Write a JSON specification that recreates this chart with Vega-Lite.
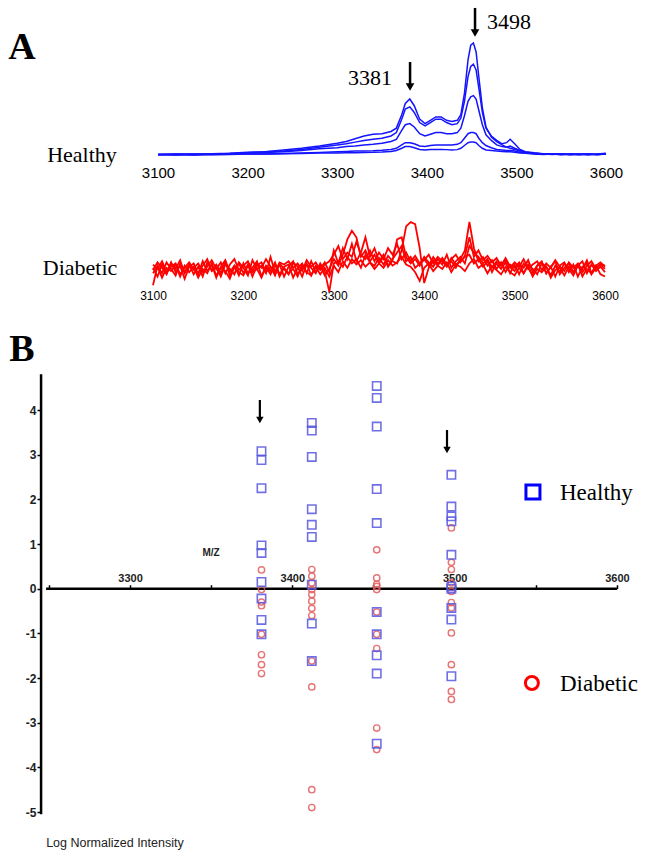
{
"$schema": "https://vega.github.io/schema/vega-lite/v6.json",
"padding": 0,
"spacing": 0,
"bounds": "flush",
"config": {"view": {"stroke": null}, "axis": {"grid": false}},
"datasets": {
"healthy": [
{"s":1,"mz":3100,"i":0.5},{"s":1,"mz":3120,"i":1},{"s":1,"mz":3140,"i":0.3},{"s":1,"mz":3160,"i":1.2},{"s":1,"mz":3180,"i":1.5},{"s":1,"mz":3200,"i":2.5},{"s":1,"mz":3220,"i":3},{"s":1,"mz":3240,"i":4.5},{"s":1,"mz":3260,"i":6},{"s":1,"mz":3280,"i":8},{"s":1,"mz":3300,"i":10.5},{"s":1,"mz":3310,"i":12},{"s":1,"mz":3320,"i":14.5},{"s":1,"mz":3330,"i":17},{"s":1,"mz":3340,"i":18.5},{"s":1,"mz":3350,"i":19},{"s":1,"mz":3360,"i":21},{"s":1,"mz":3366,"i":24},{"s":1,"mz":3372,"i":36},{"s":1,"mz":3376,"i":46},{"s":1,"mz":3381,"i":50},{"s":1,"mz":3386,"i":44},{"s":1,"mz":3392,"i":32},{"s":1,"mz":3398,"i":28},{"s":1,"mz":3404,"i":31},{"s":1,"mz":3410,"i":34},{"s":1,"mz":3416,"i":34},{"s":1,"mz":3422,"i":31},{"s":1,"mz":3428,"i":30},{"s":1,"mz":3434,"i":31},{"s":1,"mz":3438,"i":36},{"s":1,"mz":3442,"i":55},{"s":1,"mz":3446,"i":85},{"s":1,"mz":3449,"i":98},{"s":1,"mz":3452,"i":100},{"s":1,"mz":3455,"i":92},{"s":1,"mz":3458,"i":70},{"s":1,"mz":3462,"i":42},{"s":1,"mz":3466,"i":25},{"s":1,"mz":3472,"i":16},{"s":1,"mz":3478,"i":12},{"s":1,"mz":3484,"i":9},{"s":1,"mz":3489,"i":7},{"s":1,"mz":3493,"i":6},{"s":1,"mz":3498,"i":5},{"s":1,"mz":3504,"i":3.5},{"s":1,"mz":3510,"i":2.5},{"s":1,"mz":3520,"i":1.5},{"s":1,"mz":3530,"i":1},{"s":1,"mz":3540,"i":1.2},{"s":1,"mz":3550,"i":0.6},{"s":1,"mz":3560,"i":1},{"s":1,"mz":3570,"i":0.5},{"s":1,"mz":3580,"i":0.8},{"s":1,"mz":3590,"i":0.4},{"s":1,"mz":3600,"i":1},
{"s":2,"mz":3100,"i":0.3},{"s":2,"mz":3120,"i":0.8},{"s":2,"mz":3140,"i":1},{"s":2,"mz":3160,"i":0.6},{"s":2,"mz":3180,"i":1.4},{"s":2,"mz":3200,"i":2},{"s":2,"mz":3220,"i":2.8},{"s":2,"mz":3240,"i":3.5},{"s":2,"mz":3260,"i":5},{"s":2,"mz":3280,"i":7},{"s":2,"mz":3300,"i":9},{"s":2,"mz":3310,"i":10},{"s":2,"mz":3320,"i":11.5},{"s":2,"mz":3330,"i":13},{"s":2,"mz":3340,"i":14},{"s":2,"mz":3350,"i":15},{"s":2,"mz":3360,"i":17},{"s":2,"mz":3366,"i":20},{"s":2,"mz":3372,"i":32},{"s":2,"mz":3376,"i":41},{"s":2,"mz":3381,"i":43},{"s":2,"mz":3386,"i":38},{"s":2,"mz":3392,"i":29},{"s":2,"mz":3398,"i":26},{"s":2,"mz":3404,"i":29},{"s":2,"mz":3410,"i":32},{"s":2,"mz":3416,"i":32},{"s":2,"mz":3422,"i":29},{"s":2,"mz":3428,"i":27},{"s":2,"mz":3434,"i":28},{"s":2,"mz":3438,"i":33},{"s":2,"mz":3442,"i":48},{"s":2,"mz":3446,"i":70},{"s":2,"mz":3449,"i":79},{"s":2,"mz":3452,"i":81},{"s":2,"mz":3455,"i":76},{"s":2,"mz":3458,"i":60},{"s":2,"mz":3462,"i":38},{"s":2,"mz":3466,"i":24},{"s":2,"mz":3472,"i":17},{"s":2,"mz":3478,"i":13},{"s":2,"mz":3484,"i":10},{"s":2,"mz":3489,"i":11},{"s":2,"mz":3493,"i":14},{"s":2,"mz":3498,"i":10},{"s":2,"mz":3504,"i":5},{"s":2,"mz":3510,"i":3},{"s":2,"mz":3520,"i":2},{"s":2,"mz":3530,"i":1.2},{"s":2,"mz":3540,"i":0.8},{"s":2,"mz":3550,"i":1.1},{"s":2,"mz":3560,"i":0.5},{"s":2,"mz":3570,"i":0.9},{"s":2,"mz":3580,"i":0.3},{"s":2,"mz":3590,"i":0.8},{"s":2,"mz":3600,"i":1.5},
{"s":3,"mz":3100,"i":0.6},{"s":3,"mz":3120,"i":0.2},{"s":3,"mz":3140,"i":0.9},{"s":3,"mz":3160,"i":1},{"s":3,"mz":3180,"i":0.7},{"s":3,"mz":3200,"i":1.8},{"s":3,"mz":3220,"i":2.2},{"s":3,"mz":3240,"i":3},{"s":3,"mz":3260,"i":4},{"s":3,"mz":3280,"i":5.5},{"s":3,"mz":3300,"i":6.5},{"s":3,"mz":3310,"i":7.5},{"s":3,"mz":3320,"i":8},{"s":3,"mz":3330,"i":9},{"s":3,"mz":3340,"i":9.5},{"s":3,"mz":3350,"i":10.5},{"s":3,"mz":3360,"i":12},{"s":3,"mz":3366,"i":14},{"s":3,"mz":3372,"i":22},{"s":3,"mz":3376,"i":27},{"s":3,"mz":3381,"i":28},{"s":3,"mz":3386,"i":25},{"s":3,"mz":3392,"i":19},{"s":3,"mz":3398,"i":17},{"s":3,"mz":3404,"i":18.5},{"s":3,"mz":3410,"i":20},{"s":3,"mz":3416,"i":20},{"s":3,"mz":3422,"i":19},{"s":3,"mz":3428,"i":19},{"s":3,"mz":3434,"i":20},{"s":3,"mz":3438,"i":24},{"s":3,"mz":3442,"i":35},{"s":3,"mz":3446,"i":48},{"s":3,"mz":3449,"i":52},{"s":3,"mz":3452,"i":53},{"s":3,"mz":3455,"i":50},{"s":3,"mz":3458,"i":40},{"s":3,"mz":3462,"i":27},{"s":3,"mz":3466,"i":18},{"s":3,"mz":3472,"i":13},{"s":3,"mz":3478,"i":9},{"s":3,"mz":3484,"i":7.5},{"s":3,"mz":3489,"i":7},{"s":3,"mz":3493,"i":8},{"s":3,"mz":3498,"i":6},{"s":3,"mz":3504,"i":4},{"s":3,"mz":3510,"i":2.5},{"s":3,"mz":3520,"i":1.5},{"s":3,"mz":3530,"i":0.7},{"s":3,"mz":3540,"i":1},{"s":3,"mz":3550,"i":0.4},{"s":3,"mz":3560,"i":0.9},{"s":3,"mz":3570,"i":0.6},{"s":3,"mz":3580,"i":1},{"s":3,"mz":3590,"i":0.5},{"s":3,"mz":3600,"i":0.8},
{"s":4,"mz":3100,"i":0.2},{"s":4,"mz":3120,"i":0.5},{"s":4,"mz":3140,"i":0.1},{"s":4,"mz":3160,"i":0.6},{"s":4,"mz":3180,"i":0.4},{"s":4,"mz":3200,"i":0.8},{"s":4,"mz":3220,"i":1},{"s":4,"mz":3240,"i":1.3},{"s":4,"mz":3260,"i":1.8},{"s":4,"mz":3280,"i":2.3},{"s":4,"mz":3300,"i":3},{"s":4,"mz":3310,"i":3.2},{"s":4,"mz":3320,"i":3.5},{"s":4,"mz":3330,"i":3.6},{"s":4,"mz":3340,"i":3.8},{"s":4,"mz":3350,"i":4.2},{"s":4,"mz":3360,"i":5},{"s":4,"mz":3366,"i":6},{"s":4,"mz":3372,"i":9},{"s":4,"mz":3376,"i":11},{"s":4,"mz":3381,"i":11},{"s":4,"mz":3386,"i":10},{"s":4,"mz":3392,"i":8},{"s":4,"mz":3398,"i":7.5},{"s":4,"mz":3404,"i":8.5},{"s":4,"mz":3410,"i":9},{"s":4,"mz":3416,"i":9},{"s":4,"mz":3422,"i":9},{"s":4,"mz":3428,"i":9},{"s":4,"mz":3434,"i":9.5},{"s":4,"mz":3438,"i":11},{"s":4,"mz":3442,"i":15},{"s":4,"mz":3446,"i":19},{"s":4,"mz":3449,"i":20},{"s":4,"mz":3452,"i":20},{"s":4,"mz":3455,"i":19},{"s":4,"mz":3458,"i":15},{"s":4,"mz":3462,"i":11},{"s":4,"mz":3466,"i":8.5},{"s":4,"mz":3472,"i":6.5},{"s":4,"mz":3478,"i":5},{"s":4,"mz":3484,"i":4.5},{"s":4,"mz":3489,"i":4},{"s":4,"mz":3493,"i":4},{"s":4,"mz":3498,"i":3.5},{"s":4,"mz":3504,"i":2.5},{"s":4,"mz":3510,"i":2},{"s":4,"mz":3520,"i":1.2},{"s":4,"mz":3530,"i":0.8},{"s":4,"mz":3540,"i":0.4},{"s":4,"mz":3550,"i":0.9},{"s":4,"mz":3560,"i":0.3},{"s":4,"mz":3570,"i":0.7},{"s":4,"mz":3580,"i":0.2},{"s":4,"mz":3590,"i":0.6},{"s":4,"mz":3600,"i":0.9},
{"s":5,"mz":3100,"i":0.4},{"s":5,"mz":3120,"i":0.1},{"s":5,"mz":3140,"i":0.5},{"s":5,"mz":3160,"i":0.2},{"s":5,"mz":3180,"i":0.7},{"s":5,"mz":3200,"i":0.9},{"s":5,"mz":3220,"i":0.8},{"s":5,"mz":3240,"i":1.2},{"s":5,"mz":3260,"i":1.4},{"s":5,"mz":3280,"i":1.7},{"s":5,"mz":3300,"i":1.8},{"s":5,"mz":3310,"i":2},{"s":5,"mz":3320,"i":2.1},{"s":5,"mz":3330,"i":2.3},{"s":5,"mz":3340,"i":2.4},{"s":5,"mz":3350,"i":2.7},{"s":5,"mz":3360,"i":3.2},{"s":5,"mz":3366,"i":4},{"s":5,"mz":3372,"i":6},{"s":5,"mz":3376,"i":7.5},{"s":5,"mz":3381,"i":7.5},{"s":5,"mz":3386,"i":6.5},{"s":5,"mz":3392,"i":5},{"s":5,"mz":3398,"i":4.5},{"s":5,"mz":3404,"i":5},{"s":5,"mz":3410,"i":5},{"s":5,"mz":3416,"i":5},{"s":5,"mz":3422,"i":4.8},{"s":5,"mz":3428,"i":4.5},{"s":5,"mz":3434,"i":4.8},{"s":5,"mz":3438,"i":6},{"s":5,"mz":3442,"i":8.5},{"s":5,"mz":3446,"i":11},{"s":5,"mz":3449,"i":11.5},{"s":5,"mz":3452,"i":11.5},{"s":5,"mz":3455,"i":11},{"s":5,"mz":3458,"i":8.5},{"s":5,"mz":3462,"i":6},{"s":5,"mz":3466,"i":4.5},{"s":5,"mz":3472,"i":4},{"s":5,"mz":3478,"i":3.6},{"s":5,"mz":3484,"i":3.2},{"s":5,"mz":3489,"i":3},{"s":5,"mz":3493,"i":2.8},{"s":5,"mz":3498,"i":2.5},{"s":5,"mz":3504,"i":1.8},{"s":5,"mz":3510,"i":1.5},{"s":5,"mz":3520,"i":1},{"s":5,"mz":3530,"i":0.5},{"s":5,"mz":3540,"i":0.9},{"s":5,"mz":3550,"i":0.3},{"s":5,"mz":3560,"i":0.6},{"s":5,"mz":3570,"i":0.2},{"s":5,"mz":3580,"i":0.8},{"s":5,"mz":3590,"i":0.3},{"s":5,"mz":3600,"i":1}
],
"diabetic": [
{"s":1,"mz":3100,"i":2},{"s":1,"mz":3105,"i":-6},{"s":1,"mz":3110,"i":5},{"s":1,"mz":3115,"i":-3},{"s":1,"mz":3120,"i":7},{"s":1,"mz":3125,"i":-2},{"s":1,"mz":3130,"i":4},{"s":1,"mz":3135,"i":-8},{"s":1,"mz":3140,"i":3},{"s":1,"mz":3145,"i":6},
{"s":1,"mz":3150,"i":-4},{"s":1,"mz":3155,"i":8},{"s":1,"mz":3160,"i":-1},{"s":1,"mz":3165,"i":5},{"s":1,"mz":3170,"i":-7},{"s":1,"mz":3175,"i":3},{"s":1,"mz":3180,"i":9},{"s":1,"mz":3185,"i":-2},{"s":1,"mz":3190,"i":4},{"s":1,"mz":3195,"i":-5},
{"s":1,"mz":3200,"i":6},{"s":1,"mz":3205,"i":-3},{"s":1,"mz":3210,"i":2},{"s":1,"mz":3215,"i":8},{"s":1,"mz":3220,"i":-6},{"s":1,"mz":3225,"i":4},{"s":1,"mz":3230,"i":-1},{"s":1,"mz":3235,"i":7},{"s":1,"mz":3240,"i":-4},{"s":1,"mz":3245,"i":3},
{"s":1,"mz":3250,"i":5},{"s":1,"mz":3255,"i":-7},{"s":1,"mz":3260,"i":2},{"s":1,"mz":3265,"i":6},{"s":1,"mz":3270,"i":-3},{"s":1,"mz":3275,"i":8},{"s":1,"mz":3280,"i":-2},{"s":1,"mz":3285,"i":4},{"s":1,"mz":3290,"i":-5},{"s":1,"mz":3295,"i":1},
{"s":1,"mz":3300,"i":10},{"s":1,"mz":3305,"i":4},{"s":1,"mz":3310,"i":14},{"s":1,"mz":3315,"i":28},{"s":1,"mz":3320,"i":36},{"s":1,"mz":3325,"i":30},{"s":1,"mz":3330,"i":12},{"s":1,"mz":3335,"i":18},{"s":1,"mz":3340,"i":8},{"s":1,"mz":3345,"i":14},
{"s":1,"mz":3350,"i":6},{"s":1,"mz":3355,"i":12},{"s":1,"mz":3360,"i":4},{"s":1,"mz":3365,"i":10},{"s":1,"mz":3370,"i":16},{"s":1,"mz":3375,"i":22},{"s":1,"mz":3380,"i":8},{"s":1,"mz":3385,"i":12},{"s":1,"mz":3390,"i":2},{"s":1,"mz":3395,"i":6},
{"s":1,"mz":3400,"i":10},{"s":1,"mz":3405,"i":4},{"s":1,"mz":3410,"i":12},{"s":1,"mz":3415,"i":6},{"s":1,"mz":3420,"i":9},{"s":1,"mz":3425,"i":3},{"s":1,"mz":3430,"i":11},{"s":1,"mz":3435,"i":5},{"s":1,"mz":3440,"i":8},{"s":1,"mz":3445,"i":12},
{"s":1,"mz":3450,"i":14},{"s":1,"mz":3455,"i":6},{"s":1,"mz":3460,"i":10},{"s":1,"mz":3465,"i":3},{"s":1,"mz":3470,"i":8},{"s":1,"mz":3475,"i":-2},{"s":1,"mz":3480,"i":6},{"s":1,"mz":3485,"i":1},{"s":1,"mz":3490,"i":7},{"s":1,"mz":3495,"i":-3},
{"s":1,"mz":3500,"i":5},{"s":1,"mz":3505,"i":-4},{"s":1,"mz":3510,"i":6},{"s":1,"mz":3515,"i":2},{"s":1,"mz":3520,"i":-5},{"s":1,"mz":3525,"i":4},{"s":1,"mz":3530,"i":8},{"s":1,"mz":3535,"i":-3},{"s":1,"mz":3540,"i":3},{"s":1,"mz":3545,"i":-6},
{"s":1,"mz":3550,"i":4},{"s":1,"mz":3555,"i":7},{"s":1,"mz":3560,"i":-2},{"s":1,"mz":3565,"i":5},{"s":1,"mz":3570,"i":-6},{"s":1,"mz":3575,"i":3},{"s":1,"mz":3580,"i":6},{"s":1,"mz":3585,"i":-4},{"s":1,"mz":3590,"i":2},{"s":1,"mz":3595,"i":5},{"s":1,"mz":3600,"i":1},
{"s":2,"mz":3100,"i":-14},{"s":2,"mz":3105,"i":4},{"s":2,"mz":3110,"i":-3},{"s":2,"mz":3115,"i":7},{"s":2,"mz":3120,"i":1},{"s":2,"mz":3125,"i":-5},{"s":2,"mz":3130,"i":6},{"s":2,"mz":3135,"i":-2},{"s":2,"mz":3140,"i":5},{"s":2,"mz":3145,"i":-4},
{"s":2,"mz":3150,"i":3},{"s":2,"mz":3155,"i":-6},{"s":2,"mz":3160,"i":7},{"s":2,"mz":3165,"i":0},{"s":2,"mz":3170,"i":5},{"s":2,"mz":3175,"i":-3},{"s":2,"mz":3180,"i":8},{"s":2,"mz":3185,"i":-5},{"s":2,"mz":3190,"i":2},{"s":2,"mz":3195,"i":6},
{"s":2,"mz":3200,"i":-3},{"s":2,"mz":3205,"i":5},{"s":2,"mz":3210,"i":-6},{"s":2,"mz":3215,"i":4},{"s":2,"mz":3220,"i":7},{"s":2,"mz":3225,"i":-2},{"s":2,"mz":3230,"i":3},{"s":2,"mz":3235,"i":-5},{"s":2,"mz":3240,"i":6},{"s":2,"mz":3245,"i":1},
{"s":2,"mz":3250,"i":-4},{"s":2,"mz":3255,"i":7},{"s":2,"mz":3260,"i":3},{"s":2,"mz":3265,"i":-6},{"s":2,"mz":3270,"i":5},{"s":2,"mz":3275,"i":2},{"s":2,"mz":3280,"i":-3},{"s":2,"mz":3285,"i":6},{"s":2,"mz":3290,"i":-1},{"s":2,"mz":3295,"i":-20},
{"s":2,"mz":3300,"i":6},{"s":2,"mz":3305,"i":8},{"s":2,"mz":3310,"i":3},{"s":2,"mz":3315,"i":12},{"s":2,"mz":3320,"i":6},{"s":2,"mz":3325,"i":10},{"s":2,"mz":3330,"i":2},{"s":2,"mz":3335,"i":14},{"s":2,"mz":3340,"i":7},{"s":2,"mz":3345,"i":4},
{"s":2,"mz":3350,"i":11},{"s":2,"mz":3355,"i":5},{"s":2,"mz":3360,"i":13},{"s":2,"mz":3365,"i":8},{"s":2,"mz":3370,"i":6},{"s":2,"mz":3375,"i":18},{"s":2,"mz":3380,"i":40},{"s":2,"mz":3385,"i":44},{"s":2,"mz":3390,"i":42},{"s":2,"mz":3395,"i":20},
{"s":2,"mz":3400,"i":-12},{"s":2,"mz":3405,"i":2},{"s":2,"mz":3410,"i":9},{"s":2,"mz":3415,"i":4},{"s":2,"mz":3420,"i":11},{"s":2,"mz":3425,"i":5},{"s":2,"mz":3430,"i":8},{"s":2,"mz":3435,"i":2},{"s":2,"mz":3440,"i":10},{"s":2,"mz":3445,"i":18},
{"s":2,"mz":3450,"i":44},{"s":2,"mz":3455,"i":20},{"s":2,"mz":3460,"i":8},{"s":2,"mz":3465,"i":12},{"s":2,"mz":3470,"i":4},{"s":2,"mz":3475,"i":9},{"s":2,"mz":3480,"i":1},{"s":2,"mz":3485,"i":7},{"s":2,"mz":3490,"i":-2},{"s":2,"mz":3495,"i":5},
{"s":2,"mz":3500,"i":2},{"s":2,"mz":3505,"i":7},{"s":2,"mz":3510,"i":-3},{"s":2,"mz":3515,"i":5},{"s":2,"mz":3520,"i":1},{"s":2,"mz":3525,"i":-4},{"s":2,"mz":3530,"i":6},{"s":2,"mz":3535,"i":3},{"s":2,"mz":3540,"i":-5},{"s":2,"mz":3545,"i":4},
{"s":2,"mz":3550,"i":-2},{"s":2,"mz":3555,"i":6},{"s":2,"mz":3560,"i":1},{"s":2,"mz":3565,"i":-5},{"s":2,"mz":3570,"i":4},{"s":2,"mz":3575,"i":8},{"s":2,"mz":3580,"i":-3},{"s":2,"mz":3585,"i":5},{"s":2,"mz":3590,"i":-1},{"s":2,"mz":3595,"i":3},{"s":2,"mz":3600,"i":-2},
{"s":3,"mz":3100,"i":5},{"s":3,"mz":3105,"i":1},{"s":3,"mz":3110,"i":8},{"s":3,"mz":3115,"i":-2},{"s":3,"mz":3120,"i":3},{"s":3,"mz":3125,"i":6},{"s":3,"mz":3130,"i":-4},{"s":3,"mz":3135,"i":2},{"s":3,"mz":3140,"i":7},{"s":3,"mz":3145,"i":0},
{"s":3,"mz":3150,"i":-3},{"s":3,"mz":3155,"i":4},{"s":3,"mz":3160,"i":10},{"s":3,"mz":3165,"i":-1},{"s":3,"mz":3170,"i":2},{"s":3,"mz":3175,"i":-6},{"s":3,"mz":3180,"i":5},{"s":3,"mz":3185,"i":1},{"s":3,"mz":3190,"i":-4},{"s":3,"mz":3195,"i":7},
{"s":3,"mz":3200,"i":2},{"s":3,"mz":3205,"i":-5},{"s":3,"mz":3210,"i":9},{"s":3,"mz":3215,"i":1},{"s":3,"mz":3220,"i":4},{"s":3,"mz":3225,"i":-3},{"s":3,"mz":3230,"i":12},{"s":3,"mz":3235,"i":-2},{"s":3,"mz":3240,"i":5},{"s":3,"mz":3245,"i":-6},
{"s":3,"mz":3250,"i":3},{"s":3,"mz":3255,"i":8},{"s":3,"mz":3260,"i":-4},{"s":3,"mz":3265,"i":2},{"s":3,"mz":3270,"i":6},{"s":3,"mz":3275,"i":-5},{"s":3,"mz":3280,"i":4},{"s":3,"mz":3285,"i":1},{"s":3,"mz":3290,"i":7},{"s":3,"mz":3295,"i":-2},
{"s":3,"mz":3300,"i":18},{"s":3,"mz":3305,"i":6},{"s":3,"mz":3310,"i":20},{"s":3,"mz":3315,"i":10},{"s":3,"mz":3320,"i":24},{"s":3,"mz":3325,"i":8},{"s":3,"mz":3330,"i":16},{"s":3,"mz":3335,"i":30},{"s":3,"mz":3340,"i":12},{"s":3,"mz":3345,"i":20},
{"s":3,"mz":3350,"i":8},{"s":3,"mz":3355,"i":14},{"s":3,"mz":3360,"i":3},{"s":3,"mz":3365,"i":9},{"s":3,"mz":3370,"i":28},{"s":3,"mz":3375,"i":30},{"s":3,"mz":3380,"i":12},{"s":3,"mz":3385,"i":6},{"s":3,"mz":3390,"i":10},{"s":3,"mz":3395,"i":4},
{"s":3,"mz":3400,"i":12},{"s":3,"mz":3405,"i":7},{"s":3,"mz":3410,"i":3},{"s":3,"mz":3415,"i":10},{"s":3,"mz":3420,"i":5},{"s":3,"mz":3425,"i":14},{"s":3,"mz":3430,"i":2},{"s":3,"mz":3435,"i":8},{"s":3,"mz":3440,"i":12},{"s":3,"mz":3445,"i":6},
{"s":3,"mz":3450,"i":22},{"s":3,"mz":3455,"i":16},{"s":3,"mz":3460,"i":12},{"s":3,"mz":3465,"i":6},{"s":3,"mz":3470,"i":10},{"s":3,"mz":3475,"i":2},{"s":3,"mz":3480,"i":8},{"s":3,"mz":3485,"i":4},{"s":3,"mz":3490,"i":11},{"s":3,"mz":3495,"i":3},
{"s":3,"mz":3500,"i":-1},{"s":3,"mz":3505,"i":6},{"s":3,"mz":3510,"i":2},{"s":3,"mz":3515,"i":9},{"s":3,"mz":3520,"i":-2},{"s":3,"mz":3525,"i":4},{"s":3,"mz":3530,"i":7},{"s":3,"mz":3535,"i":-3},{"s":3,"mz":3540,"i":3},{"s":3,"mz":3545,"i":8},
{"s":3,"mz":3550,"i":-4},{"s":3,"mz":3555,"i":2},{"s":3,"mz":3560,"i":6},{"s":3,"mz":3565,"i":-2},{"s":3,"mz":3570,"i":5},{"s":3,"mz":3575,"i":1},{"s":3,"mz":3580,"i":9},{"s":3,"mz":3585,"i":-3},{"s":3,"mz":3590,"i":4},{"s":3,"mz":3595,"i":7},{"s":3,"mz":3600,"i":3},
{"s":4,"mz":3100,"i":-3},{"s":4,"mz":3105,"i":3},{"s":4,"mz":3110,"i":-7},{"s":4,"mz":3115,"i":2},{"s":4,"mz":3120,"i":-1},{"s":4,"mz":3125,"i":5},{"s":4,"mz":3130,"i":-6},{"s":4,"mz":3135,"i":4},{"s":4,"mz":3140,"i":-2},{"s":4,"mz":3145,"i":3},
{"s":4,"mz":3150,"i":-7},{"s":4,"mz":3155,"i":1},{"s":4,"mz":3160,"i":-3},{"s":4,"mz":3165,"i":6},{"s":4,"mz":3170,"i":-5},{"s":4,"mz":3175,"i":2},{"s":4,"mz":3180,"i":-1},{"s":4,"mz":3185,"i":-8},{"s":4,"mz":3190,"i":3},{"s":4,"mz":3195,"i":-2},
{"s":4,"mz":3200,"i":-5},{"s":4,"mz":3205,"i":4},{"s":4,"mz":3210,"i":-2},{"s":4,"mz":3215,"i":1},{"s":4,"mz":3220,"i":-7},{"s":4,"mz":3225,"i":3},{"s":4,"mz":3230,"i":-4},{"s":4,"mz":3235,"i":5},{"s":4,"mz":3240,"i":-6},{"s":4,"mz":3245,"i":2},
{"s":4,"mz":3250,"i":-3},{"s":4,"mz":3255,"i":1},{"s":4,"mz":3260,"i":-6},{"s":4,"mz":3265,"i":5},{"s":4,"mz":3270,"i":-2},{"s":4,"mz":3275,"i":-5},{"s":4,"mz":3280,"i":3},{"s":4,"mz":3285,"i":-4},{"s":4,"mz":3290,"i":2},{"s":4,"mz":3295,"i":-6},
{"s":4,"mz":3300,"i":4},{"s":4,"mz":3305,"i":-2},{"s":4,"mz":3310,"i":8},{"s":4,"mz":3315,"i":2},{"s":4,"mz":3320,"i":10},{"s":4,"mz":3325,"i":5},{"s":4,"mz":3330,"i":9},{"s":4,"mz":3335,"i":3},{"s":4,"mz":3340,"i":7},{"s":4,"mz":3345,"i":1},
{"s":4,"mz":3350,"i":6},{"s":4,"mz":3355,"i":2},{"s":4,"mz":3360,"i":9},{"s":4,"mz":3365,"i":4},{"s":4,"mz":3370,"i":7},{"s":4,"mz":3375,"i":12},{"s":4,"mz":3380,"i":5},{"s":4,"mz":3385,"i":3},{"s":4,"mz":3390,"i":-2},{"s":4,"mz":3395,"i":-10},
{"s":4,"mz":3400,"i":2},{"s":4,"mz":3405,"i":6},{"s":4,"mz":3410,"i":-1},{"s":4,"mz":3415,"i":4},{"s":4,"mz":3420,"i":1},{"s":4,"mz":3425,"i":7},{"s":4,"mz":3430,"i":-2},{"s":4,"mz":3435,"i":5},{"s":4,"mz":3440,"i":3},{"s":4,"mz":3445,"i":-1},
{"s":4,"mz":3450,"i":6},{"s":4,"mz":3455,"i":10},{"s":4,"mz":3460,"i":2},{"s":4,"mz":3465,"i":5},{"s":4,"mz":3470,"i":-3},{"s":4,"mz":3475,"i":4},{"s":4,"mz":3480,"i":0},{"s":4,"mz":3485,"i":-4},{"s":4,"mz":3490,"i":3},{"s":4,"mz":3495,"i":-2},
{"s":4,"mz":3500,"i":-5},{"s":4,"mz":3505,"i":2},{"s":4,"mz":3510,"i":-3},{"s":4,"mz":3515,"i":4},{"s":4,"mz":3520,"i":-6},{"s":4,"mz":3525,"i":1},{"s":4,"mz":3530,"i":-2},{"s":4,"mz":3535,"i":3},{"s":4,"mz":3540,"i":-7},{"s":4,"mz":3545,"i":0},
{"s":4,"mz":3550,"i":2},{"s":4,"mz":3555,"i":-5},{"s":4,"mz":3560,"i":3},{"s":4,"mz":3565,"i":-2},{"s":4,"mz":3570,"i":5},{"s":4,"mz":3575,"i":-6},{"s":4,"mz":3580,"i":1},{"s":4,"mz":3585,"i":-3},{"s":4,"mz":3590,"i":4},{"s":4,"mz":3595,"i":-4},{"s":4,"mz":3600,"i":-6},
{"s":5,"mz":3100,"i":0},{"s":5,"mz":3105,"i":7},{"s":5,"mz":3110,"i":2},{"s":5,"mz":3115,"i":-4},{"s":5,"mz":3120,"i":6},{"s":5,"mz":3125,"i":1},{"s":5,"mz":3130,"i":9},{"s":5,"mz":3135,"i":-3},{"s":5,"mz":3140,"i":4},{"s":5,"mz":3145,"i":2},
{"s":5,"mz":3150,"i":6},{"s":5,"mz":3155,"i":-2},{"s":5,"mz":3160,"i":3},{"s":5,"mz":3165,"i":9},{"s":5,"mz":3170,"i":1},{"s":5,"mz":3175,"i":7},{"s":5,"mz":3180,"i":-3},{"s":5,"mz":3185,"i":5},{"s":5,"mz":3190,"i":10},{"s":5,"mz":3195,"i":0},
{"s":5,"mz":3200,"i":4},{"s":5,"mz":3205,"i":8},{"s":5,"mz":3210,"i":-1},{"s":5,"mz":3215,"i":6},{"s":5,"mz":3220,"i":2},{"s":5,"mz":3225,"i":10},{"s":5,"mz":3230,"i":3},{"s":5,"mz":3235,"i":-2},{"s":5,"mz":3240,"i":7},{"s":5,"mz":3245,"i":5},
{"s":5,"mz":3250,"i":8},{"s":5,"mz":3255,"i":2},{"s":5,"mz":3260,"i":6},{"s":5,"mz":3265,"i":-1},{"s":5,"mz":3270,"i":9},{"s":5,"mz":3275,"i":3},{"s":5,"mz":3280,"i":7},{"s":5,"mz":3285,"i":0},{"s":5,"mz":3290,"i":5},{"s":5,"mz":3295,"i":8},
{"s":5,"mz":3300,"i":14},{"s":5,"mz":3305,"i":22},{"s":5,"mz":3310,"i":10},{"s":5,"mz":3315,"i":16},{"s":5,"mz":3320,"i":12},{"s":5,"mz":3325,"i":26},{"s":5,"mz":3330,"i":14},{"s":5,"mz":3335,"i":10},{"s":5,"mz":3340,"i":18},{"s":5,"mz":3345,"i":8},
{"s":5,"mz":3350,"i":16},{"s":5,"mz":3355,"i":10},{"s":5,"mz":3360,"i":20},{"s":5,"mz":3365,"i":14},{"s":5,"mz":3370,"i":24},{"s":5,"mz":3375,"i":10},{"s":5,"mz":3380,"i":16},{"s":5,"mz":3385,"i":8},{"s":5,"mz":3390,"i":13},{"s":5,"mz":3395,"i":6},
{"s":5,"mz":3400,"i":9},{"s":5,"mz":3405,"i":14},{"s":5,"mz":3410,"i":6},{"s":5,"mz":3415,"i":12},{"s":5,"mz":3420,"i":8},{"s":5,"mz":3425,"i":4},{"s":5,"mz":3430,"i":10},{"s":5,"mz":3435,"i":14},{"s":5,"mz":3440,"i":7},{"s":5,"mz":3445,"i":13},
{"s":5,"mz":3450,"i":30},{"s":5,"mz":3455,"i":12},{"s":5,"mz":3460,"i":18},{"s":5,"mz":3465,"i":9},{"s":5,"mz":3470,"i":13},{"s":5,"mz":3475,"i":7},{"s":5,"mz":3480,"i":11},{"s":5,"mz":3485,"i":4},{"s":5,"mz":3490,"i":9},{"s":5,"mz":3495,"i":2},
{"s":5,"mz":3500,"i":7},{"s":5,"mz":3505,"i":3},{"s":5,"mz":3510,"i":10},{"s":5,"mz":3515,"i":1},{"s":5,"mz":3520,"i":5},{"s":5,"mz":3525,"i":8},{"s":5,"mz":3530,"i":0},{"s":5,"mz":3535,"i":6},{"s":5,"mz":3540,"i":2},{"s":5,"mz":3545,"i":9},
{"s":5,"mz":3550,"i":3},{"s":5,"mz":3555,"i":-1},{"s":5,"mz":3560,"i":7},{"s":5,"mz":3565,"i":2},{"s":5,"mz":3570,"i":6},{"s":5,"mz":3575,"i":-2},{"s":5,"mz":3580,"i":4},{"s":5,"mz":3585,"i":8},{"s":5,"mz":3590,"i":1},{"s":5,"mz":3595,"i":5},{"s":5,"mz":3600,"i":4}
],
"arrowsA": [{"mz":3381.3,"i":83,"i2":60.7},{"mz":3453.8,"i":131.3,"i2":108.9}],
"textA": [
{"mz":2948.3,"i":95.1,"t":"A","k":"big"},
{"mz":3015.2,"i":0,"t":"Healthy","k":"lab"},
{"mz":3336.6,"i":68.75,"t":"3381","k":"lab"},
{"mz":3491.8,"i":118.75,"t":"3498","k":"lab"}
],
"textD": [{"mz":3019.25,"i":2,"t":"Diabetic"}],
"pts": [
{"mz":3381,"v":3.08,"g":"H"},{"mz":3381,"v":2.88,"g":"H"},{"mz":3381,"v":2.25,"g":"H"},{"mz":3381,"v":0.97,"g":"H"},{"mz":3381,"v":0.8,"g":"H"},{"mz":3381,"v":0.15,"g":"H"},{"mz":3381,"v":-0.22,"g":"H"},{"mz":3381,"v":-0.7,"g":"H"},{"mz":3381,"v":-1.02,"g":"H"},
{"mz":3412,"v":3.71,"g":"H"},{"mz":3412,"v":3.54,"g":"H"},{"mz":3412,"v":2.95,"g":"H"},{"mz":3412,"v":1.78,"g":"H"},{"mz":3412,"v":1.43,"g":"H"},{"mz":3412,"v":1.16,"g":"H"},{"mz":3412,"v":0.09,"g":"H"},{"mz":3412,"v":-0.78,"g":"H"},{"mz":3412,"v":-1.62,"g":"H"},
{"mz":3452,"v":4.54,"g":"H"},{"mz":3452,"v":4.27,"g":"H"},{"mz":3452,"v":3.63,"g":"H"},{"mz":3452,"v":2.23,"g":"H"},{"mz":3452,"v":1.47,"g":"H"},{"mz":3452,"v":-0.52,"g":"H"},{"mz":3452,"v":-1.02,"g":"H"},{"mz":3452,"v":-1.49,"g":"H"},{"mz":3452,"v":-1.9,"g":"H"},{"mz":3452,"v":-3.47,"g":"H"},
{"mz":3498,"v":2.55,"g":"H"},{"mz":3498,"v":1.84,"g":"H"},{"mz":3498,"v":1.62,"g":"H"},{"mz":3498,"v":1.51,"g":"H"},{"mz":3498,"v":0.76,"g":"H"},{"mz":3498,"v":0.05,"g":"H"},{"mz":3498,"v":0,"g":"H"},{"mz":3498,"v":-0.43,"g":"H"},{"mz":3498,"v":-0.69,"g":"H"},{"mz":3498,"v":-1.96,"g":"H"},
{"mz":3381,"v":0.42,"g":"D"},{"mz":3381,"v":-0.02,"g":"D"},{"mz":3381,"v":-0.3,"g":"D"},{"mz":3381,"v":-0.38,"g":"D"},{"mz":3381,"v":-1.02,"g":"D"},{"mz":3381,"v":-1.48,"g":"D"},{"mz":3381,"v":-1.7,"g":"D"},{"mz":3381,"v":-1.9,"g":"D"},
{"mz":3412,"v":0.43,"g":"D"},{"mz":3412,"v":0.28,"g":"D"},{"mz":3412,"v":0.13,"g":"D"},{"mz":3412,"v":-0.02,"g":"D"},{"mz":3412,"v":-0.13,"g":"D"},{"mz":3412,"v":-0.28,"g":"D"},{"mz":3412,"v":-0.44,"g":"D"},{"mz":3412,"v":-0.6,"g":"D"},{"mz":3412,"v":-1.62,"g":"D"},{"mz":3412,"v":-2.2,"g":"D"},{"mz":3412,"v":-4.5,"g":"D"},{"mz":3412,"v":-4.9,"g":"D"},
{"mz":3452,"v":0.87,"g":"D"},{"mz":3452,"v":0.24,"g":"D"},{"mz":3452,"v":0.1,"g":"D"},{"mz":3452,"v":0.05,"g":"D"},{"mz":3452,"v":-0.02,"g":"D"},{"mz":3452,"v":-0.52,"g":"D"},{"mz":3452,"v":-1.02,"g":"D"},{"mz":3452,"v":-1.34,"g":"D"},{"mz":3452,"v":-3.12,"g":"D"},{"mz":3452,"v":-3.6,"g":"D"},
{"mz":3498,"v":1.36,"g":"D"},{"mz":3498,"v":0.59,"g":"D"},{"mz":3498,"v":0.43,"g":"D"},{"mz":3498,"v":0.13,"g":"D"},{"mz":3498,"v":-0.06,"g":"D"},{"mz":3498,"v":-0.31,"g":"D"},{"mz":3498,"v":-0.43,"g":"D"},{"mz":3498,"v":-0.99,"g":"D"},{"mz":3498,"v":-1.7,"g":"D"},{"mz":3498,"v":-2.3,"g":"D"},{"mz":3498,"v":-2.48,"g":"D"}
],
"yline": [{"mz":3245.2,"v":4.8,"v2":-5.05}],
"xline": [{"mz":3248.3,"mz2":3600,"v":0}],
"arrowsB": [{"mz":3380,"v":4.225,"v2":3.777},{"mz":3495.3,"v":3.553,"v2":3.105}],
"textB": [
{"mz":3233.45,"v":5.343,"t":"B","k":"big"},
{"mz":3349.9,"v":0.8,"t":"M/Z","k":"mz"},
{"mz":3290.7,"v":-5.693,"t":"Log Normalized Intensity","k":"ylab"},
{"mz":3564.9,"v":2.165,"t":"Healthy","k":"leg"},
{"mz":3564.9,"v":-2.111,"t":"Diabetic","k":"leg"}
],
"legB": [{"mz":3548.25,"v":2.165,"g":"H"},{"mz":3547.6,"v":-2.111,"g":"D"}]
},
"vconcat": [
{
"width": 646, "height": 162,
"layer": [
{"data": {"name": "healthy"}, "mark": {"type": "line", "color": "#1414ff", "strokeWidth": 1.5},
 "encoding": {
  "x": {"field": "mz", "type": "quantitative", "scale": {"domain": [2923.7, 3644.6], "nice": false, "zero": false},
        "axis": {"values": [3100,3200,3300,3400,3500,3600], "format": "d", "domain": false, "ticks": false, "labelFont": "Liberation Sans", "labelFontSize": 15, "labelPadding": 3, "labelColor": "#000", "labelOverlap": false, "title": null}},
  "y": {"field": "i", "type": "quantitative", "scale": {"domain": [-6.25, 138.4], "nice": false, "zero": false}, "axis": null},
  "detail": {"field": "s"}}},
{"data": {"name": "arrowsA"}, "mark": {"type": "rule", "strokeWidth": 2.5, "color": "#000"},
 "encoding": {"x": {"field": "mz", "type": "quantitative"}, "y": {"field": "i", "type": "quantitative"}, "y2": {"field": "i2"}}},
{"data": {"name": "arrowsA"}, "mark": {"type": "point", "shape": "triangle-down", "filled": true, "color": "#000", "size": 75, "opacity": 1},
 "encoding": {"x": {"field": "mz", "type": "quantitative"}, "y": {"field": "i2", "type": "quantitative"}}},
{"data": {"name": "textA"}, "transform": [{"filter": "datum.k === 'big'"}],
 "mark": {"type": "text", "font": "Liberation Serif", "fontSize": 38, "fontWeight": "bold", "align": "center", "baseline": "middle", "color": "#000"},
 "encoding": {"x": {"field": "mz", "type": "quantitative"}, "y": {"field": "i", "type": "quantitative"}, "text": {"field": "t"}}},
{"data": {"name": "textA"}, "transform": [{"filter": "datum.k === 'lab'"}],
 "mark": {"type": "text", "font": "Liberation Serif", "fontSize": 22, "align": "center", "baseline": "middle", "color": "#000"},
 "encoding": {"x": {"field": "mz", "type": "quantitative"}, "y": {"field": "i", "type": "quantitative"}, "text": {"field": "t"}}}
]
},
{
"width": 646, "height": 126,
"layer": [
{"data": {"name": "diabetic"}, "mark": {"type": "line", "color": "#ff0000", "strokeWidth": 1.8},
 "encoding": {
  "x": {"field": "mz", "type": "quantitative", "scale": {"domain": [2930.75, 3645.35], "nice": false, "zero": false},
        "axis": {"values": [3100,3200,3300,3400,3500,3600], "format": "d", "domain": false, "ticks": false, "labelFont": "Liberation Sans", "labelFontSize": 12, "labelPadding": 2, "labelColor": "#000", "labelOverlap": false, "title": null}},
  "y": {"field": "i", "type": "quantitative", "scale": {"domain": [-16.5, 99], "nice": false, "zero": false}, "axis": null},
  "detail": {"field": "s"}}},
{"data": {"name": "textD"}, "mark": {"type": "text", "font": "Liberation Serif", "fontSize": 22, "align": "center", "baseline": "middle", "color": "#000"},
 "encoding": {"x": {"field": "mz", "type": "quantitative"}, "y": {"field": "i", "type": "quantitative"}, "text": {"field": "t"}}}
]
},
{
"width": 646, "height": 563,
"layer": [
{"data": {"name": "yline"}, "mark": {"type": "rule", "strokeWidth": 2.5, "color": "#000"},
 "encoding": {
  "x": {"field": "mz", "type": "quantitative", "scale": {"domain": [3219.9, 3617.9], "nice": false, "zero": false},
        "axis": {"orient": "top", "offset": -300.7, "values": [3250,3300,3350,3400,3450,3500,3550,3600], "format": "d", "labelExpr": "datum.value % 100 === 0 ? datum.label : ''", "domain": false, "tickSize": 4, "tickWidth": 1.5, "tickColor": "#000", "labelFont": "Liberation Sans", "labelFontSize": 11, "labelFontWeight": "bold", "labelColor": "#222", "labelPadding": 1, "labelOverlap": false, "title": null}},
  "y": {"field": "v", "type": "quantitative", "scale": {"domain": [-5.872, 6.732], "nice": false, "zero": false},
        "axis": {"orient": "left", "offset": -41, "values": [-5,-4.5,-4,-3.5,-3,-2.5,-2,-1.5,-1,-0.5,0,0.5,1,1.5,2,2.5,3,3.5,4,4.5], "format": "d", "labelExpr": "datum.value % 1 === 0 ? replace(datum.label, '\u2212', '-') : ''", "domain": false, "tickSize": 4, "tickWidth": 1.5, "tickColor": "#000", "labelFont": "Liberation Sans", "labelFontSize": 12, "labelFontWeight": "bold", "labelColor": "#222", "labelPadding": 1, "labelOverlap": false, "title": null}},
  "y2": {"field": "v2"}}},
{"data": {"name": "xline"}, "mark": {"type": "rule", "strokeWidth": 2.5, "color": "#000"},
 "encoding": {"x": {"field": "mz", "type": "quantitative"}, "x2": {"field": "mz2"}, "y": {"field": "v", "type": "quantitative"}}},
{"data": {"name": "pts"}, "transform": [{"filter": "datum.g === 'D'"}],
 "mark": {"type": "point", "shape": "circle", "filled": false, "color": "#e25c5c", "size": 40, "strokeWidth": 1.4, "opacity": 0.85},
 "encoding": {"x": {"field": "mz", "type": "quantitative"}, "y": {"field": "v", "type": "quantitative"}}},
{"data": {"name": "pts"}, "transform": [{"filter": "datum.g === 'H'"}],
 "mark": {"type": "point", "shape": "square", "filled": false, "color": "#5858e0", "size": 70, "strokeWidth": 1.6, "opacity": 0.85},
 "encoding": {"x": {"field": "mz", "type": "quantitative"}, "y": {"field": "v", "type": "quantitative"}}},
{"data": {"name": "arrowsB"}, "mark": {"type": "rule", "strokeWidth": 2.2, "color": "#000"},
 "encoding": {"x": {"field": "mz", "type": "quantitative"}, "y": {"field": "v", "type": "quantitative"}, "y2": {"field": "v2"}}},
{"data": {"name": "arrowsB"}, "mark": {"type": "point", "shape": "triangle-down", "filled": true, "color": "#000", "size": 55, "opacity": 1},
 "encoding": {"x": {"field": "mz", "type": "quantitative"}, "y": {"field": "v2", "type": "quantitative"}}},
{"data": {"name": "legB"}, "transform": [{"filter": "datum.g === 'H'"}],
 "mark": {"type": "point", "shape": "square", "filled": false, "color": "#0000ff", "size": 196, "strokeWidth": 3, "opacity": 1},
 "encoding": {"x": {"field": "mz", "type": "quantitative"}, "y": {"field": "v", "type": "quantitative"}}},
{"data": {"name": "legB"}, "transform": [{"filter": "datum.g === 'D'"}],
 "mark": {"type": "point", "shape": "circle", "filled": false, "color": "#ff0000", "size": 169, "strokeWidth": 3, "opacity": 1},
 "encoding": {"x": {"field": "mz", "type": "quantitative"}, "y": {"field": "v", "type": "quantitative"}}},
{"data": {"name": "textB"}, "transform": [{"filter": "datum.k === 'big'"}],
 "mark": {"type": "text", "font": "Liberation Serif", "fontSize": 38, "fontWeight": "bold", "align": "center", "baseline": "middle", "color": "#000"},
 "encoding": {"x": {"field": "mz", "type": "quantitative"}, "y": {"field": "v", "type": "quantitative"}, "text": {"field": "t"}}},
{"data": {"name": "textB"}, "transform": [{"filter": "datum.k === 'mz'"}],
 "mark": {"type": "text", "font": "Liberation Sans", "fontSize": 10, "fontWeight": "bold", "align": "center", "baseline": "middle", "color": "#222"},
 "encoding": {"x": {"field": "mz", "type": "quantitative"}, "y": {"field": "v", "type": "quantitative"}, "text": {"field": "t"}}},
{"data": {"name": "textB"}, "transform": [{"filter": "datum.k === 'ylab'"}],
 "mark": {"type": "text", "font": "Liberation Sans", "fontSize": 12.5, "align": "center", "baseline": "middle", "color": "#222"},
 "encoding": {"x": {"field": "mz", "type": "quantitative"}, "y": {"field": "v", "type": "quantitative"}, "text": {"field": "t"}}},
{"data": {"name": "textB"}, "transform": [{"filter": "datum.k === 'leg'"}],
 "mark": {"type": "text", "font": "Liberation Serif", "fontSize": 23, "align": "left", "baseline": "middle", "color": "#000", "dy": 1},
 "encoding": {"x": {"field": "mz", "type": "quantitative"}, "y": {"field": "v", "type": "quantitative"}, "text": {"field": "t"}}}
]
}
]
}
